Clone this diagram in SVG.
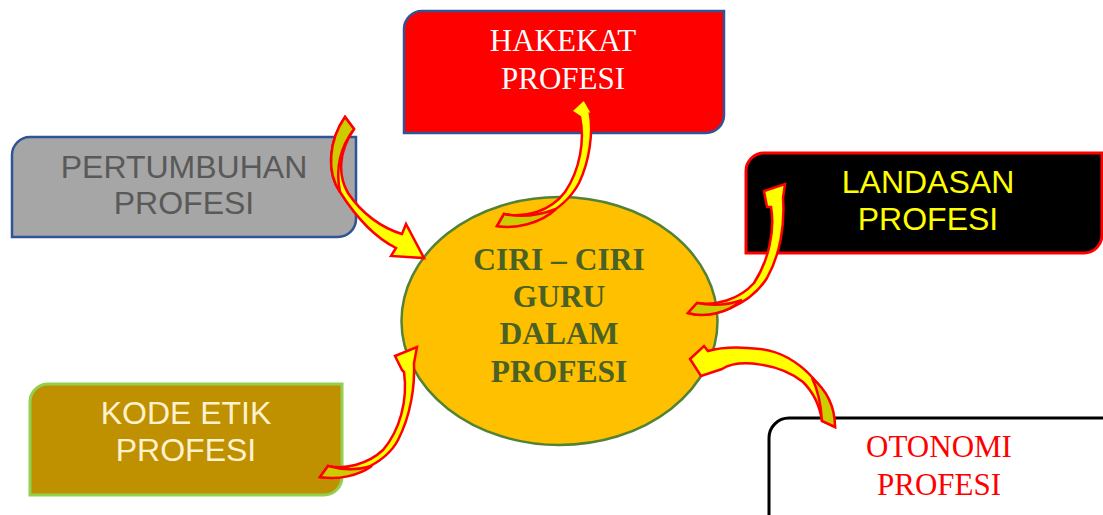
<svg xmlns="http://www.w3.org/2000/svg" width="1103" height="515" viewBox="0 0 1103 515">
<style>
.sans{font-family:"Liberation Sans",Arial,sans-serif;font-size:32px;text-anchor:middle}
.serif{font-family:"Liberation Serif","Times New Roman",serif;font-size:31px;text-anchor:middle}
.ctr{font-family:"Liberation Serif","Times New Roman",serif;font-size:31.5px;font-weight:bold;text-anchor:middle;fill:#4A6125}
.front{fill:#FFFF00;stroke:#FF0000;stroke-width:2.5;stroke-linejoin:miter}
.back{fill:#CCCC00;stroke:#FF0000;stroke-width:2.5;stroke-linejoin:miter}
</style>
<rect width="1103" height="515" fill="#FFFFFF"/>
<g id="node-hakekat">
<path d="M422,11 H724 V115 A18 18 0 0 1 706,133 H404 V29 A18 18 0 0 1 422,11 Z" fill="#FF0000" stroke="#2F5597" stroke-width="2.5"/>
<text class="serif" x="563" y="51" fill="#FFFFFF">HAKEKAT</text>
<text class="serif" x="563" y="89" fill="#FFFFFF">PROFESI</text>
</g>
<g id="node-pertumbuhan">
<path d="M30,137 H356 V219 A18 18 0 0 1 338,237 H12 V155 A18 18 0 0 1 30,137 Z" fill="#A6A6A6" stroke="#2F5597" stroke-width="2.5"/>
<text class="sans" x="184" y="178" fill="#595959">PERTUMBUHAN</text>
<text class="sans" x="184" y="214" fill="#595959">PROFESI</text>
</g>
<g id="node-landasan">
<path d="M764,153 H1102 V235 A18 18 0 0 1 1084,253 H746 V171 A18 18 0 0 1 764,153 Z" fill="#000000" stroke="#FF0000" stroke-width="3"/>
<text class="sans" x="928" y="193" fill="#FFFF00">LANDASAN</text>
<text class="sans" x="928" y="230" fill="#FFFF00">PROFESI</text>
</g>
<g id="node-kode-etik">
<path d="M48,384 H342 V477 A18 18 0 0 1 324,495 H30 V402 A18 18 0 0 1 48,384 Z" fill="#BF9000" stroke="#92D050" stroke-width="3"/>
<text class="sans" x="186" y="424" fill="#FFF2CC">KODE ETIK</text>
<text class="sans" x="186" y="461" fill="#FFF2CC">PROFESI</text>
</g>
<g id="node-otonomi">
<path d="M789,418 H1140 V540 H769 V438 A20 20 0 0 1 789,418 Z" fill="#FFFFFF" stroke="#000000" stroke-width="3"/>
<text class="serif" x="939" y="457" fill="#FF0000">OTONOMI</text>
<text class="serif" x="939" y="495" fill="#FF0000">PROFESI</text>
</g>
<g id="node-center">
<ellipse cx="559.5" cy="321" rx="158" ry="124" fill="#FFC000" stroke="#548235" stroke-width="2.5"/>
<text class="ctr" x="559" y="270">CIRI – CIRI</text>
<text class="ctr" x="559" y="307">GURU</text>
<text class="ctr" x="559" y="344">DALAM</text>
<text class="ctr" x="559" y="382">PROFESI</text>
</g>
<g id="connectors">
<!-- pertumbuhan -> center -->
<path class="front" d="M345,117 C329,140 326,172 340,192 C354,214 372,236 396,248 L391,256 L424,258 L406,224 L402,234 C382,228 362,214 348,193 C338,176 338,152 354,129 Z"/>
<path class="back" d="M345,117 C329,140 326,172 340,192 C336,172 338,150 354,129 Z"/>
<!-- center -> hakekat -->
<path class="front" d="M497,226 C520,230 562,215 579,183 C590,160 593,132 590,114 L593,115 L584,99 L571,111 L580,117 C585,140 580,170 565,192 C550,212 525,218 504,214 Z"/>
<path class="back" d="M497,226 C515,229 540,224 556,209 C540,215 522,218 504,214 Z"/>
<!-- center -> landasan -->
<path class="front" d="M688,313 C712,320 750,305 767,278 C780,255 785,225 783,198 L785,184 L764,191 L767,207 L771,207 C775,230 769,260 754,283 C739,300 715,306 697,303 Z"/>
<path class="back" d="M688,313 C705,318 728,313 742,300 C728,305 712,306 697,303 Z"/>
<!-- otonomi -> center -->
<path class="front" d="M835,427 C835,395 800,353 760,349 C735,346 718,348 708,351 L704,346 L690,359 L701,376 L722,369 C740,358 780,364 803,382 C815,394 820,407 822,421 Z"/>
<path class="back" d="M835,427 C835,410 830,393 812,378 C818,390 821,405 822,421 Z"/>
<!-- kode etik -> center -->
<path class="front" d="M320,477 C345,481 385,465 398,440 C411,415 415,385 414,363 L417,347 L395,356 L402,370 L404,372 C408,400 400,430 383,450 C368,464 345,470 328,466 Z"/>
<path class="back" d="M320,477 C338,480 358,476 372,466 C358,470 342,470 328,466 Z"/>
</g>
</svg>
